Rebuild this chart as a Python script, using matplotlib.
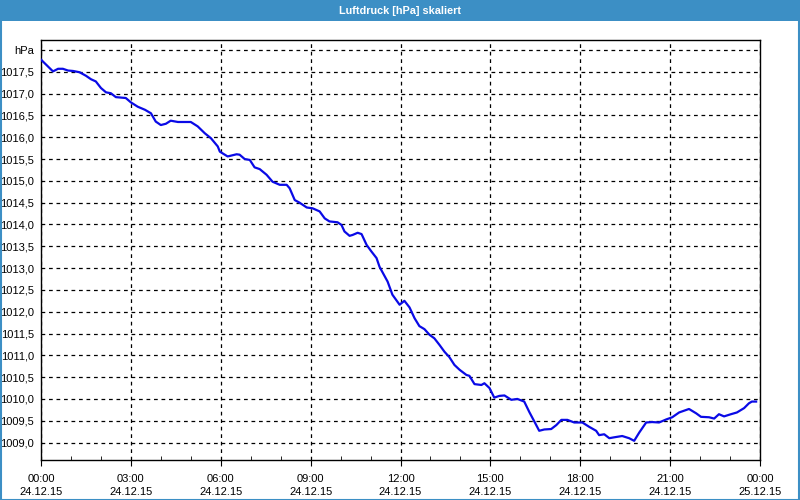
import matplotlib
matplotlib.use("Agg")
import matplotlib.pyplot as plt
from matplotlib.patches import Rectangle
from matplotlib.lines import Line2D

plt.rcParams["font.family"] = ["Liberation Sans", "DejaVu Sans"]

# hours since 24.12.15 00:00 and pressure in hPa
hours = [0.00, 0.40, 0.57, 0.73, 0.90, 1.07, 1.29, 1.50, 1.67, 1.83,
         2.00, 2.17, 2.33, 2.50, 2.83, 3.00, 3.23, 3.47, 3.67, 3.83,
         4.00, 4.17, 4.33, 4.57, 5.00, 5.23, 5.47, 5.67, 5.90, 5.97,
         6.23, 6.53, 6.63, 6.80, 6.97, 7.13, 7.30, 7.53, 7.73, 7.97,
         8.20, 8.30, 8.47, 8.63, 8.87, 9.07, 9.30, 9.47, 9.63, 9.90,
         10.03, 10.13, 10.30, 10.40, 10.57, 10.70, 10.87, 11.03, 11.20, 11.30,
         11.57, 11.73, 11.97, 12.13, 12.30, 12.47, 12.63, 12.80, 12.97, 13.13,
         13.30, 13.47, 13.63, 13.80, 13.97, 14.20, 14.30, 14.47, 14.70, 14.80,
         14.97, 15.13, 15.30, 15.47, 15.70, 15.90, 16.13, 16.30, 16.47, 16.63,
         16.80, 17.03, 17.20, 17.37, 17.57, 17.80, 18.07, 18.30, 18.53, 18.63,
         18.80, 18.97, 19.13, 19.40, 19.63, 19.80, 19.97, 20.20, 20.40, 20.63,
         20.87, 21.07, 21.30, 21.63, 21.87, 22.03, 22.30, 22.47, 22.63, 22.80,
         23.03, 23.23, 23.47, 23.63, 23.73, 23.87]
pressure = [1017.78, 1017.51, 1017.57, 1017.57, 1017.53, 1017.52, 1017.49, 1017.41, 1017.33, 1017.28,
            1017.13, 1017.03, 1017.01, 1016.92, 1016.90, 1016.80, 1016.70, 1016.63, 1016.55, 1016.36,
            1016.28, 1016.31, 1016.38, 1016.35, 1016.35, 1016.25, 1016.09, 1015.98, 1015.79, 1015.67,
            1015.56, 1015.61, 1015.60, 1015.50, 1015.48, 1015.31, 1015.27, 1015.14, 1014.98, 1014.91,
            1014.91, 1014.83, 1014.56, 1014.50, 1014.39, 1014.37, 1014.30, 1014.14, 1014.07, 1014.05,
            1013.99, 1013.84, 1013.74, 1013.76, 1013.81, 1013.78, 1013.53, 1013.38, 1013.23, 1013.03,
            1012.69, 1012.39, 1012.16, 1012.25, 1012.10, 1011.85, 1011.67, 1011.60, 1011.47, 1011.39,
            1011.24, 1011.08, 1010.96, 1010.78, 1010.67, 1010.55, 1010.53, 1010.34, 1010.32, 1010.36,
            1010.25, 1010.03, 1010.07, 1010.08, 1009.98, 1010.00, 1009.94, 1009.70, 1009.48, 1009.27,
            1009.30, 1009.31, 1009.40, 1009.52, 1009.52, 1009.46, 1009.46, 1009.36, 1009.27, 1009.17,
            1009.19, 1009.10, 1009.12, 1009.15, 1009.10, 1009.04, 1009.23, 1009.46, 1009.47, 1009.46,
            1009.53, 1009.58, 1009.69, 1009.77, 1009.67, 1009.59, 1009.58, 1009.55, 1009.65, 1009.60,
            1009.65, 1009.69, 1009.79, 1009.90, 1009.94, 1009.94]

y_ticks = [1009.0, 1009.5, 1010.0, 1010.5, 1011.0, 1011.5, 1012.0, 1012.5, 1013.0,
           1013.5, 1014.0, 1014.5, 1015.0, 1015.5, 1016.0, 1016.5, 1017.0, 1017.5, 1018.0]
x_ticks = [0, 3, 6, 9, 12, 15, 18, 21, 24]
x_labels = ["00:00\n24.12.15", "03:00\n24.12.15", "06:00\n24.12.15", "09:00\n24.12.15",
            "12:00\n24.12.15", "15:00\n24.12.15", "18:00\n24.12.15", "21:00\n24.12.15",
            "00:00\n25.12.15"]

title = "Luftdruck [hPa] skaliert"
bar_col = "#3c8fc5"

fig = plt.figure(figsize=(8, 5), dpi=100)
fig.patch.set_facecolor("white")

# title bar and thin frame round the picture
fig.patches.append(Rectangle((0, 0.959), 1, 0.041, transform=fig.transFigure,
                             facecolor=bar_col, edgecolor="none", zorder=0))
fig.text(0.5, 0.979, title, color="white", fontsize=7.8, fontweight="bold",
         ha="center", va="center")
for xs, ys in [([0.0007, 0.0007], [0, 1]), ([0.9993, 0.9993], [0, 1]), ([0, 1], [0.001, 0.001])]:
    fig.lines.append(Line2D(xs, ys, transform=fig.transFigure, color=bar_col, lw=1.5))

ax = fig.add_axes([0.05125, 0.08, 0.89875, 0.84])
ax.plot(hours, pressure, color="#0a0ae6", lw=1.6, zorder=3)

ax.set_xlim(0, 24)
ax.set_ylim(1008.6, 1018.23)

ax.set_yticks(y_ticks)
ax.set_yticklabels([f"{v:.1f}".replace(".", ",") for v in y_ticks[:-1]] + ["hPa"])
ax.set_xticks(x_ticks)
ax.set_xticklabels(x_labels, linespacing=1.45)
ax.set_xticks(range(1, 24), minor=True)

ax.tick_params(axis="y", length=0, pad=5, labelsize=8)
ax.tick_params(axis="x", which="major", length=4, direction="out", pad=6, labelsize=8)
ax.tick_params(axis="x", which="minor", length=3, direction="in")

ax.grid(True, which="major", color="black", ls=(0, (3, 3)), lw=0.9)
for s in ax.spines.values():
    s.set_color("black")
    s.set_linewidth(1.0)

fig.savefig("out.png", dpi=100)
